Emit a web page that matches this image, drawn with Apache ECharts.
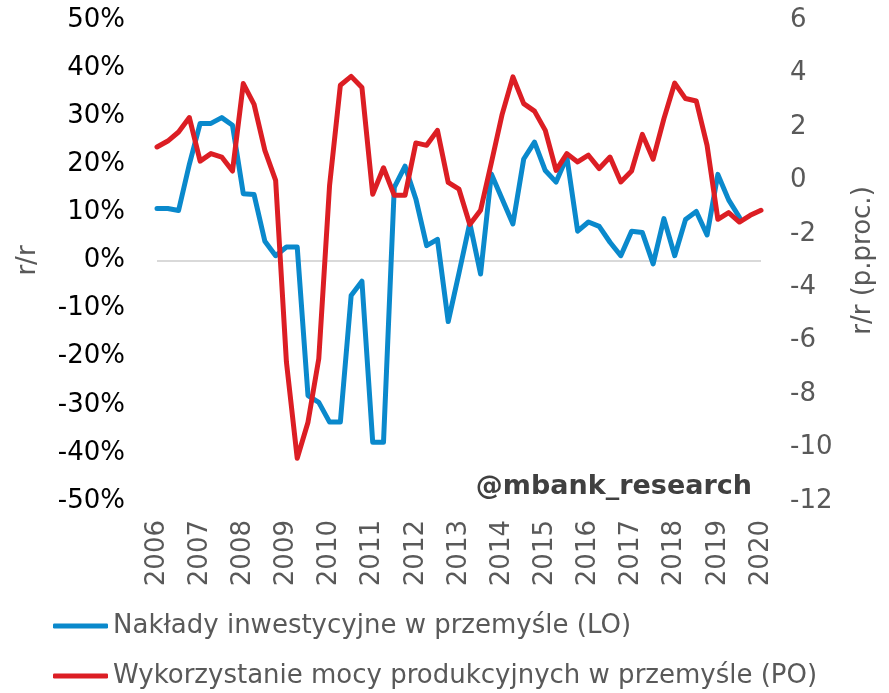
<!DOCTYPE html>
<html>
<head>
<meta charset="utf-8">
<script src="https://cdn.jsdelivr.net/npm/echarts@6/dist/echarts.min.js"></script>
<style>
  html, body { margin: 0; padding: 0; background: #fff; }
  #chart { width: 889px; height: 693px; }
</style>
</head>
<body>
<div id="chart"></div>
<script>
// quarterly categories 2006Q1 .. 2020Q1
const quarters = [
  '2006Q1', '2006Q2', '2006Q3', '2006Q4', '2007Q1', '2007Q2', '2007Q3', '2007Q4',
  '2008Q1', '2008Q2', '2008Q3', '2008Q4', '2009Q1', '2009Q2', '2009Q3', '2009Q4',
  '2010Q1', '2010Q2', '2010Q3', '2010Q4', '2011Q1', '2011Q2', '2011Q3', '2011Q4',
  '2012Q1', '2012Q2', '2012Q3', '2012Q4', '2013Q1', '2013Q2', '2013Q3', '2013Q4',
  '2014Q1', '2014Q2', '2014Q3', '2014Q4', '2015Q1', '2015Q2', '2015Q3', '2015Q4',
  '2016Q1', '2016Q2', '2016Q3', '2016Q4', '2017Q1', '2017Q2', '2017Q3', '2017Q4',
  '2018Q1', '2018Q2', '2018Q3', '2018Q4', '2019Q1', '2019Q2', '2019Q3', '2019Q4',
  '2020Q1'
];

// Nakłady inwestycyjne w przemyśle, r/r w % (lewa oś)
const naklady = [
  10.8, 10.8, 10.4, 20.0, 28.5, 28.5, 29.7, 28.1,
  13.9, 13.7, 4.0, 1.0, 2.8, 2.8, -28.1, -29.5,
  -33.6, -33.6, -7.3, -4.3, -37.8, -37.8, 15.2, 19.6,
  12.8, 3.1, 4.4, -12.7, -2.6, 7.8, -2.8, 18.0,
  12.8, 7.6, 21.1, 24.6, 18.7, 16.3, 21.5, 6.1,
  8.0, 7.1, 3.8, 1.0, 6.1, 5.8, -0.7, 8.7,
  1.0, 8.5, 10.2, 5.3, 17.9, 12.6, 9.0, null,
  null
];

// Wykorzystanie mocy produkcyjnych, r/r w p.proc. (prawa oś)
const wykorzystanie = [
  1.25, 1.47, 1.81, 2.35, 0.72, 1.0, 0.87, 0.35,
  3.62, 2.84, 1.12, 0.0, -6.8, -10.4, -9.05, -6.67,
  -0.19, 3.56, 3.89, 3.47, -0.52, 0.47, -0.56, -0.56,
  1.40, 1.31, 1.87, -0.08, -0.33, -1.65, -1.12, 0.66,
  2.47, 3.87, 2.87, 2.59, 1.87, 0.37, 1.0, 0.69,
  0.94, 0.44, 0.87, -0.06, 0.35, 1.72, 0.79, 2.31,
  3.64, 3.06, 2.97, 1.31, -1.46, -1.21, -1.56, -1.31,
  -1.12
];

const seriesNames = [
  'Nakłady inwestycyjne w przemyśle (LO)',
  'Wykorzystanie mocy produkcyjnych w przemyśle (PO)'
];

const FONT = 'DejaVu Sans';
const GREY = '#595959';
const BLUE = '#0a89cc';
const RED = '#dc1e24';

const chart = echarts.init(document.getElementById('chart'));

chart.setOption({
  backgroundColor: '#fff',
  animation: false,
  textStyle: { fontFamily: FONT },
  grid: {
    left: 157,
    right: 128,
    top: 20,
    bottom: 192,
  },
  legend: {
    orient: 'vertical',
    left: 53,
    top: 613,
    padding: 0,
    itemWidth: 55,
    itemHeight: 5,
    itemGap: 24,
    icon: 'roundRect',
    data: seriesNames,
    textStyle: { fontSize: 26, color: GREY, fontFamily: FONT },
  },
  graphic: [
    {
      type: 'text',
      right: 137,
      top: 473,
      style: {
        text: '@mbank_research',
        font: 'bold 27px "DejaVu Sans"',
        fill: '#404040',
      },
    },
  ],
  xAxis: {
    type: 'category',
    data: quarters,
    boundaryGap: false,
    axisLine: { show: false },
    axisTick: { show: false },
    splitLine: { show: false },
    axisLabel: {
      interval: 3,
      rotate: 90,
      margin: 19,
      fontSize: 26,
      fontFamily: FONT,
      color: GREY,
      formatter: (v) => v.slice(0, 4),
    },
  },
  yAxis: [
    {
      type: 'value',
      min: -50,
      max: 50,
      interval: 10,
      name: 'r/r',
      nameLocation: 'middle',
      nameRotate: 90,
      nameGap: 116,
      nameTextStyle: { fontSize: 26, color: GREY, fontFamily: FONT },
      axisLine: { show: false },
      axisTick: { show: false },
      splitLine: { show: false },
      axisLabel: {
        fontSize: 26,
        fontFamily: FONT,
        color: '#000',
        margin: 32,
        formatter: (v) => v + '%',
      },
    },
    {
      type: 'value',
      min: -12,
      max: 6,
      interval: 2,
      name: 'r/r (p.proc.)',
      nameLocation: 'middle',
      nameRotate: 90,
      nameGap: 89,
      nameTextStyle: { fontSize: 26, color: GREY, fontFamily: FONT },
      axisLine: { show: false },
      axisTick: { show: false },
      splitLine: { show: false },
      axisLabel: {
        fontSize: 26,
        fontFamily: FONT,
        color: GREY,
        margin: 29,
      },
    },
  ],
  series: [
    {
      name: seriesNames[0],
      type: 'line',
      yAxisIndex: 0,
      data: naklady,
      symbol: 'none',
      color: BLUE,
      lineStyle: { width: 5, color: BLUE, cap: 'round', join: 'round' },
      markLine: {
        silent: true,
        symbol: 'none',
        label: { show: false },
        lineStyle: { color: '#d9d9d9', width: 2, type: 'solid' },
        data: [{ yAxis: 0 }],
        z: 1,
      },
      z: 2,
    },
    {
      name: seriesNames[1],
      type: 'line',
      yAxisIndex: 1,
      data: wykorzystanie,
      symbol: 'none',
      color: RED,
      lineStyle: { width: 5, color: RED, cap: 'round', join: 'round' },
      z: 3,
    },
  ],
});
</script>
</body>
</html>
